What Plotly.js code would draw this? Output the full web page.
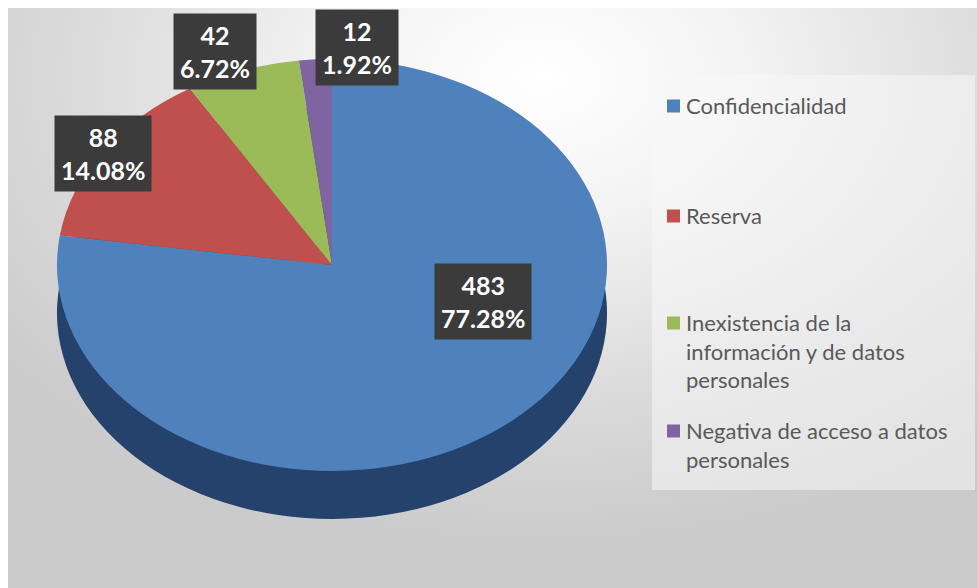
<!DOCTYPE html>
<html><head><meta charset="utf-8">
<script src="https://cdn.plot.ly/plotly-3.0.1.min.js"></script>
<style>
html,body{margin:0;padding:0;background:#fff;}
#wrap{position:absolute;left:0;top:0;width:977px;height:588px;background:#fff;overflow:hidden;}
#bg{position:absolute;left:8px;top:8px;width:969px;height:580px;
 background:radial-gradient(ellipse 70% 80% at 55% 12%, #ffffff 0%, #f3f3f3 30%, #dadada 70%, #cbcbcb 100%);}
#chart{position:absolute;left:0;top:0;width:977px;height:588px;}
/* tilt the pie into the flattened perspective of the original 3-D chart */
#chart .pielayer{transform-origin:332px 0px;transform:scaleX(1.335);}
</style></head>
<body><div id="wrap"><div id="bg"></div><div id="chart"></div></div>
<script>
// ---- data ----
const categories = ["Confidencialidad", "Reserva", "Inexistencia de la información y de datos personales", "Negativa de acceso a datos personales"];
const values = [483, 88, 42, 12];
const legendText = ["Confidencialidad", "Reserva", "Inexistencia de la<br>información y de datos<br>personales", "Negativa de acceso a datos<br>personales"];

// ---- styles ----
const topColors = ["#4f81bd", "#c0504d", "#9bbb59", "#8064a2"];
const sideColors = ["#25426c", "#843533", "#67803a", "#54416f"];

const W = 977, H = 588;
const px = x => x / W;
const py = y => 1 - y / H;

// pie geometry (pixels)
const cx = 332, cy = 265, r = 206, depth = 48;
const domTop = {x: [px(cx - r), px(cx + r)], y: [py(cy + r), py(cy - r)]};
const domSide = {x: [px(cx - r), px(cx + r)], y: [py(cy + r + depth), py(cy - r + depth)]};

const total = values.reduce((a, b) => a + b, 0);
const pct = values.map(v => (v / total * 100).toFixed(2) + "%");

const sideTrace = {
  type: "pie", labels: categories, values: values, sort: false,
  direction: "clockwise", rotation: 0, domain: domSide,
  marker: {colors: sideColors, line: {width: 0}},
  textinfo: "none", hoverinfo: "skip", showlegend: false
};
const topTrace = {
  type: "pie", labels: categories, values: values, sort: false,
  direction: "clockwise", rotation: 0, domain: domTop,
  marker: {colors: topColors, line: {width: 0}},
  textinfo: "none", showlegend: false,
  hovertemplate: "%{label}<br>%{value} (%{percent})<extra></extra>"
};

// data label box positions (pixel centres)
const labelPos = [[483, 301], [103, 153], [215, 51], [357, 47]];
// legend first-line centres (pixels)
const legendY = [106, 216, 323, 431];

const annotations = [];
const shapes = [];

values.forEach((v, i) => {
  annotations.push({
    xref: "paper", yref: "paper", x: px(labelPos[i][0]), y: py(labelPos[i][1]),
    xanchor: "center", yanchor: "middle", showarrow: false,
    text: "<b>" + v + "<br>" + pct[i] + "</b>",
    font: {family: "Lato, 'Open Sans', sans-serif", size: 25, color: "#ffffff"},
    bgcolor: "#3b3b3b", borderpad: 6, align: "center"
  });
});

// legend panel
shapes.push({type: "rect", xref: "paper", yref: "paper", x0: px(652), x1: px(975), y0: py(490), y1: py(75),
  fillcolor: "rgba(248,248,248,0.55)", line: {width: 0}, layer: "below"});

legendText.forEach((t, i) => {
  shapes.push({type: "rect", xref: "paper", yref: "paper",
    x0: px(667), x1: px(680), y0: py(legendY[i] + 6.5), y1: py(legendY[i] - 6.5),
    fillcolor: topColors[i], line: {width: 0}});
  annotations.push({
    xref: "paper", yref: "paper", x: px(684), y: py(legendY[i] - 16),
    xanchor: "left", yanchor: "top", showarrow: false, align: "left",
    text: t, font: {family: "Lato, 'Open Sans', sans-serif", size: 22, color: "#595959"}
  });
});

const layout = {
  width: W, height: H, margin: {l: 0, r: 0, t: 0, b: 0},
  paper_bgcolor: "rgba(0,0,0,0)", plot_bgcolor: "rgba(0,0,0,0)",
  showlegend: false, annotations: annotations, shapes: shapes
};

Plotly.newPlot("chart", [sideTrace, topTrace], layout, {displayModeBar: false, staticPlot: true});
</script>
</body></html>
